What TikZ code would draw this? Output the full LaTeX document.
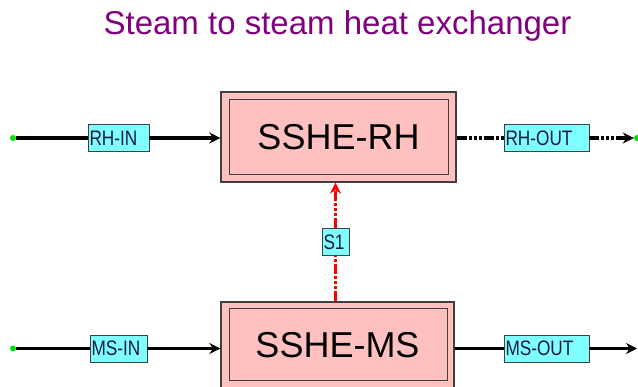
\documentclass[tikz,border=0pt]{standalone}
\usepackage{graphicx}
\usepackage{fontspec}
\setmainfont{Liberation Sans}
\usetikzlibrary{arrows.meta,positioning}
\definecolor{plum}{HTML}{800080}
\definecolor{blush}{HTML}{FFC0C0}
\definecolor{aqua}{HTML}{80FFFF}
\definecolor{slate}{HTML}{404040}
\definecolor{navy}{HTML}{1A1A4A}
\definecolor{leaf}{HTML}{00E000}
\definecolor{signal}{HTML}{FF0000}
\newcommand{\tagtext}[1]{\scalebox{0.82}[1]{#1}}

\tikzset{
  unit/.style={draw=slate, line width=1.2pt, fill=blush, minimum width=235pt,
    minimum height=90pt, inner sep=0pt, font=\fontsize{36}{40}\selectfont},
  tag/.style={draw=slate, line width=0.8pt, fill=aqua, text=navy, align=left,
    minimum height=27pt, inner xsep=1.5pt, inner ysep=0pt,
    font=\fontsize{21}{24}\selectfont},
  port/.style={circle, fill=leaf, inner sep=0pt, minimum size=6pt},
  flow/.style={line width=3.2pt, black},
  tip/.style={-{Stealth[length=11pt,width=11pt]}},
  brokenflow/.style={dash pattern=on 10pt off 2pt on 3pt off 2pt on 3pt off 2pt on 3pt off 2pt},
}

\begin{document}
\begin{tikzpicture}[x=1pt, y=-1pt]
  \useasboundingbox (0,0) rectangle (638,387);

  \node[plum, font=\fontsize{33}{38}\selectfont, anchor=base]
    (title) at (337.5,35) {Steam to steam heat exchanger};

  \node[unit] (rh) at (338.5,137) {SSHE-RH};
  \draw[slate, line width=1.2pt] ([shift={(9,8)}]rh.north west) rectangle ([shift={(-8,-8)}]rh.south east);

  \node[unit, minimum width=233pt, minimum height=87pt] (ms) at (337.5,345.5) {SSHE-MS};
  \draw[slate, line width=1.2pt] ([shift={(9,7)}]ms.north west) rectangle ([shift={(-7,-9)}]ms.south east);

  \node[port] (rhsrc) at (13,138) {};
  \node[tag, text width=58pt] (rhin) at (118.5,138) {\tagtext{RH-IN}};
  \draw[flow] (rhsrc) -- (rhin);
  \draw[flow, tip] (rhin) -- (rhin -| rh.west);

  \node[tag, text width=82pt] (rhout) at (546.5,138) {\tagtext{RH-OUT}};
  \node[port] (rhsink) at (637,138) {};
  \draw[flow, brokenflow] (rhout -| rh.east) -- (rhout);
  \draw[flow, brokenflow, tip] (rhout) -- (rhsink);

  \node[tag, text width=24pt] (s1) at (335.5,242) {\tagtext{S1}};
  \draw[flow, signal, line width=3.6pt, brokenflow] (s1 |- ms.north) -- (s1);
  \draw[flow, signal, line width=3.6pt, brokenflow, tip] (s1) -- (s1 |- rh.south);

  \node[port] (mssrc) at (13,348.5) {};
  \node[tag, text width=54pt] (msin) at (118.5,348.5) {\tagtext{MS-IN}};
  \draw[flow] (mssrc) -- (msin);
  \draw[flow, tip] (msin) -- (msin -| ms.west);

  \node[tag, text width=82pt] (msout) at (546.5,348.5) {\tagtext{MS-OUT}};
  \coordinate (mssink) at (637,348.5);
  \draw[flow] (msout -| ms.east) -- (msout);
  \draw[flow, tip] (msout) -- (mssink);
\end{tikzpicture}
\end{document}
